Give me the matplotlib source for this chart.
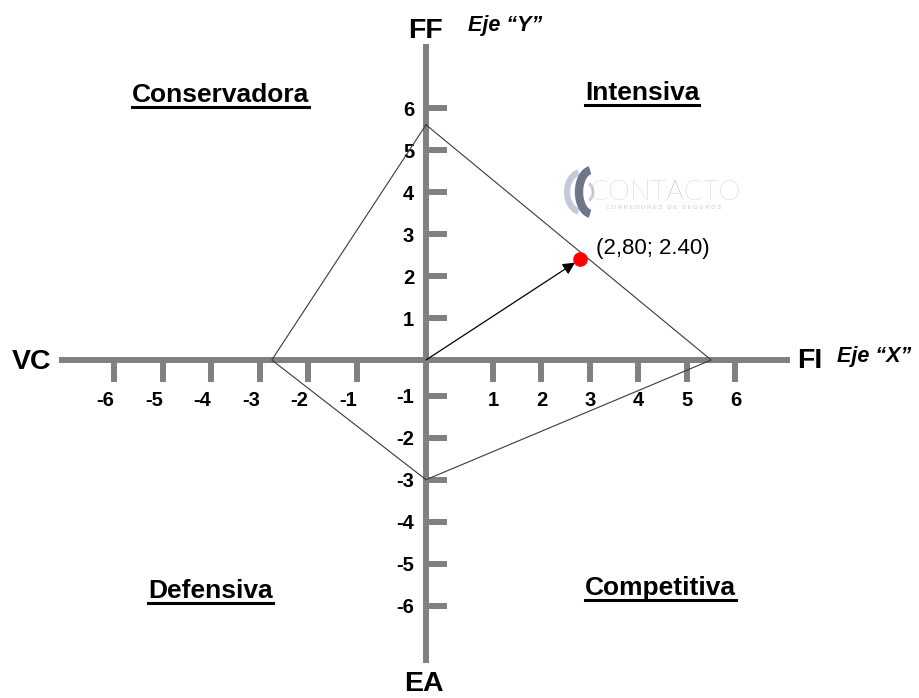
import numpy as np
import matplotlib
matplotlib.use("Agg")
import matplotlib.pyplot as plt
from matplotlib.patches import Arc
from matplotlib.lines import Line2D
from matplotlib.transforms import IdentityTransform

# ---------------- data ----------------
x_ticks = [-6, -5, -4, -3, -2, -1, 1, 2, 3, 4, 5, 6]
y_ticks = [-6, -5, -4, -3, -2, -1, 1, 2, 3, 4, 5, 6]
x_tick_labels = ["-6", "-5", "-4", "-3", "-2", "-1", "1", "2", "3", "4", "5", "6"]
y_tick_labels = ["-6", "-5", "-4", "-3", "-2", "-1", "1", "2", "3", "4", "5", "6"]

# PEYEA polygon: FF (top), FI (right), EA (bottom), VC (left)
polygon_x = [0.0, 5.5, 0.0, -2.75, 0.0]
polygon_y = [5.6, 0.0, -3.0, 0.0, 5.6]

point_x = 2.80
point_y = 2.40
point_label = "(2,80; 2.40)"

axis_names = ["FF", "FI", "EA", "VC"]
axis_titles = ["Eje \u201cY\u201d", "Eje \u201cX\u201d"]
quadrant_names = ["Conservadora", "Intensiva", "Defensiva", "Competitiva"]

# ---------------- styling ----------------
W, H = 919, 698
plt.rcParams["font.family"] = ["Liberation Sans", "DejaVu Sans"]
AXIS_GRAY = "#808080"

fig = plt.figure(figsize=(W / 100, H / 100), dpi=100)
fig.patch.set_facecolor("white")
ax = fig.add_axes([0, 0, 1, 1])
ax.set_facecolor("white")


def make_scale(g_pos, g_neg):
    """Hand-drawn axis: the first unit on each side has its own width."""
    def fwd(v):
        v = np.asarray(v, dtype=float)
        g = np.where(v >= 0, g_pos, g_neg)
        return np.where(np.abs(v) <= 1, v * g, v + np.sign(v) * (g - 1))

    def inv(u):
        u = np.asarray(u, dtype=float)
        g = np.where(u >= 0, g_pos, g_neg)
        return np.where(np.abs(u) <= g, u / g, u - np.sign(u) * (g - 1))
    return fwd, inv


xfwd, xinv = make_scale(1.38, 1.43)
yfwd, yinv = make_scale(1.0, 0.85)
ax.set_xscale("function", functions=(xfwd, xinv))
ax.set_yscale("function", functions=(yfwd, yinv))

XU, X0 = 48.5, 426.0   # pixels per unit, origin pixel
YU, Y0 = 42.0, 360.0
ax.set_xlim(float(xinv(-X0 / XU)), float(xinv((W - X0) / XU)))
ax.set_ylim(float(yinv(-(H - Y0) / YU)), float(yinv(Y0 / YU)))

# axes through the origin
for s in ["top", "right"]:
    ax.spines[s].set_visible(False)
ax.spines["left"].set_position(("data", 0))
ax.spines["bottom"].set_position(("data", 0))
ax.spines["bottom"].set_bounds(float(xinv((62 - X0) / XU)), float(xinv((787 - X0) / XU)))
ax.spines["left"].set_bounds(float(yinv(-(660 - Y0) / YU)), float(yinv((Y0 - 47) / YU)))
for s in ["left", "bottom"]:
    ax.spines[s].set_linewidth(4.3)
    ax.spines[s].set_color(AXIS_GRAY)

ax.set_xticks(x_ticks)
ax.set_xticklabels(x_tick_labels)
ax.set_yticks(y_ticks)
ax.set_yticklabels(y_tick_labels)
ax.tick_params(axis="x", direction="out", length=15.8, width=4.3,
               color=AXIS_GRAY, pad=6.5, labelsize=14.5)
ax.tick_params(axis="y", direction="in", length=15, width=4.3,
               color=AXIS_GRAY, pad=8.5, labelsize=14.5)
for lab in ax.get_xticklabels():
    lab.set_fontweight("bold")
    if lab.get_text().startswith("-"):
        lab.set_horizontalalignment("right")
for lab in ax.get_yticklabels():
    lab.set_fontweight("bold")

# polygon
ax.plot(polygon_x, polygon_y, color="#3a3a3a", lw=0.8, zorder=3)

# vector to the point
ax.annotate("", xy=(point_x, point_y), xytext=(0, 0),
            arrowprops=dict(arrowstyle="-|>", color="black", lw=0.9,
                            mutation_scale=18, shrinkA=0, shrinkB=4.5),
            zorder=4)
ax.plot([point_x], [point_y], "o", color="#ff0000", ms=9.5, zorder=5)
ax.annotate(point_label, xy=(point_x, point_y), xytext=(11, 8),
            textcoords="offset points", ha="left", va="center",
            fontsize=16, color="black", zorder=5)


# ---------------- texts in figure pixels ----------------
def fx(px):
    return px / W


def fy(py):
    return 1 - py / H


big = dict(fontsize=20.5, fontweight="bold", color="black")
fig.text(fx(426), fy(38), axis_names[0], ha="center", va="baseline", **big)
fig.text(fx(797), fy(368), axis_names[1], ha="left", va="baseline", **big)
fig.text(fx(424), fy(697), axis_names[2], ha="center", va="bottom", **big)
fig.text(fx(12), fy(369), axis_names[3], ha="left", va="baseline", **big)

it = dict(fontsize=15.5, fontweight="bold", fontstyle="italic", color="black")
fig.text(fx(468), fy(31), axis_titles[0], ha="left", va="baseline", **it)
fig.text(fx(837), fy(362), axis_titles[1], ha="left", va="baseline", **it)

quad_pos = [(132, 102), (585, 100), (148, 598), (585, 595)]
renderer = fig.canvas.get_renderer()
for name, (px, py) in zip(quadrant_names, quad_pos):
    t = fig.text(fx(px), fy(py), name, ha="left", va="baseline",
                 fontsize=19, fontweight="bold", color="black")
    bb = t.get_window_extent(renderer)
    yline = H - (py + 4.5)
    fig.add_artist(Line2D([bb.x0, bb.x1], [yline, yline], color="black",
                          lw=2.2, transform=IdentityTransform()))

# CONTACTO logo (decorative)
fig.text(fx(589), fy(200), "CONTACTO", ha="left", va="baseline",
         fontsize=20, family=["Lato", "DejaVu Sans"], fontweight="light",
         color="#aab2c6")
fig.text(fx(606), fy(209), "C O R R E D O R E S   D E   S E G U R O S",
         ha="left", va="baseline", fontsize=4.2, color="#c3c9d6")
fig.add_artist(Arc((582, H - 192), 30, 40, theta1=100, theta2=260,
                   lw=4.5, color="#c4cad8", transform=IdentityTransform()))
fig.add_artist(Arc((592, H - 192), 26, 44, theta1=95, theta2=265,
                   lw=6, color="#6f7688", transform=IdentityTransform()))
fig.add_artist(Arc((586, H - 192), 14, 18, theta1=-70, theta2=70,
                   lw=2, color="#c4cad8", transform=IdentityTransform()))

fig.savefig("out.png", dpi=100, facecolor="white")
